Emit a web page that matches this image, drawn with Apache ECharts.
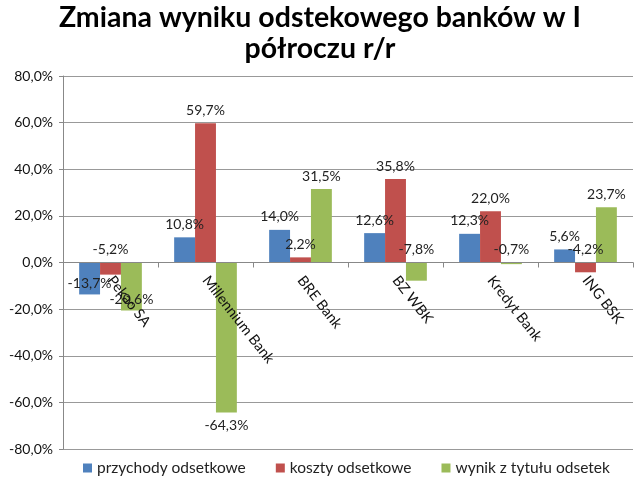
<!DOCTYPE html>
<html>
<head>
<meta charset="utf-8">
<script src="https://cdn.jsdelivr.net/npm/echarts@6/dist/echarts.min.js"></script>
<style>
  html, body { margin: 0; padding: 0; background: #fff; }
  #chart { width: 640px; height: 486px; }
</style>
</head>
<body>
<div id="chart"></div>
<script>
// banki
const categories = ['Pekao SA', 'Millennium Bank', 'BRE Bank', 'BZ WBK', 'Kredyt Bank', 'ING BSK']
// zmiana r/r w %
const przychody = [-13.7, 10.8, 14.0, 12.6, 12.3, 5.6]
const koszty = [-5.2, 59.7, 2.2, 35.8, 22.0, -4.2]
const wynik = [-20.6, -64.3, 31.5, -7.8, -0.7, 23.7]
const seriesNames = ['przychody odsetkowe', 'koszty odsetkowe', 'wynik z tytułu odsetek']
const colors = ['#4F81BD', '#C0504D', '#9BBB59']

const FONT = 'Lato'
const GRID_TOP = 76
const GRID_BOTTOM = 37

function pct(v) {
  return v.toFixed(1).replace('.', ',') + '%'
}

// etykiety ujemnych słupków ustawione jak w oryginale
function withLabels(values) {
  return values.map(v => {
    if (v <= -30) return {value: v, label: {position: 'bottom'}}
    if (v < -10) return {value: v, label: {position: 'insideBottom', distance: 4}}
    return v
  })
}

const chart = echarts.init(document.getElementById('chart'))

// oś X ma leżeć na linii zera (środek osi -80..80)
const plotH = 486 - GRID_TOP - GRID_BOTTOM

const option = {
  backgroundColor: '#fff',
  textStyle: {fontFamily: FONT},
  title: {
    text: 'Zmiana wyniku odstekowego banków w I\npółroczu r/r',
    left: 'center',
    top: -3,
    padding: [5, 0, 5, 28],
    textStyle: {
      fontFamily: FONT,
      fontSize: 28.5,
      fontWeight: 'bold',
      color: '#000',
      lineHeight: 31
    }
  },
  legend: {
    data: seriesNames,
    bottom: 5,
    left: 78,
    icon: 'rect',
    itemWidth: 9,
    itemHeight: 9,
    itemGap: 30,
    textStyle: {fontFamily: FONT, fontSize: 15.5, color: '#222'}
  },
  grid: {
    left: 63,
    right: 7,
    top: GRID_TOP,
    bottom: GRID_BOTTOM,
    outerBoundsMode: 'none'
  },
  xAxis: {
    type: 'category',
    data: categories,
    position: 'bottom',
    offset: -plotH / 2,
    z: 5,
    axisLine: {onZero: false, lineStyle: {color: '#888'}},
    axisTick: {show: true, length: 5, lineStyle: {color: '#888'}},
    axisLabel: {
      rotate: -52,
      margin: 15,
      fontFamily: FONT,
      fontSize: 14.5,
      color: '#111'
    }
  },
  yAxis: {
    type: 'value',
    min: -80,
    max: 80,
    interval: 20,
    axisLine: {show: true, lineStyle: {color: '#888'}},
    axisTick: {show: true, length: 4, lineStyle: {color: '#888'}},
    splitLine: {lineStyle: {color: '#999'}},
    axisLabel: {
      formatter: v => pct(v),
      fontFamily: FONT,
      fontSize: 14,
      color: '#111',
      margin: 10
    }
  },
  series: [przychody, koszty, wynik].map((vals, i) => ({
    name: seriesNames[i],
    type: 'bar',
    data: withLabels(vals),
    barGap: '0%',
    barCategoryGap: '34%',
    itemStyle: {color: colors[i]},
    label: {
      show: true,
      position: 'top',
      distance: 6,
      formatter: p => pct(p.value),
      fontFamily: FONT,
      fontSize: 14,
      color: '#222'
    }
  }))
}

chart.setOption(option)
</script>
</body>
</html>
